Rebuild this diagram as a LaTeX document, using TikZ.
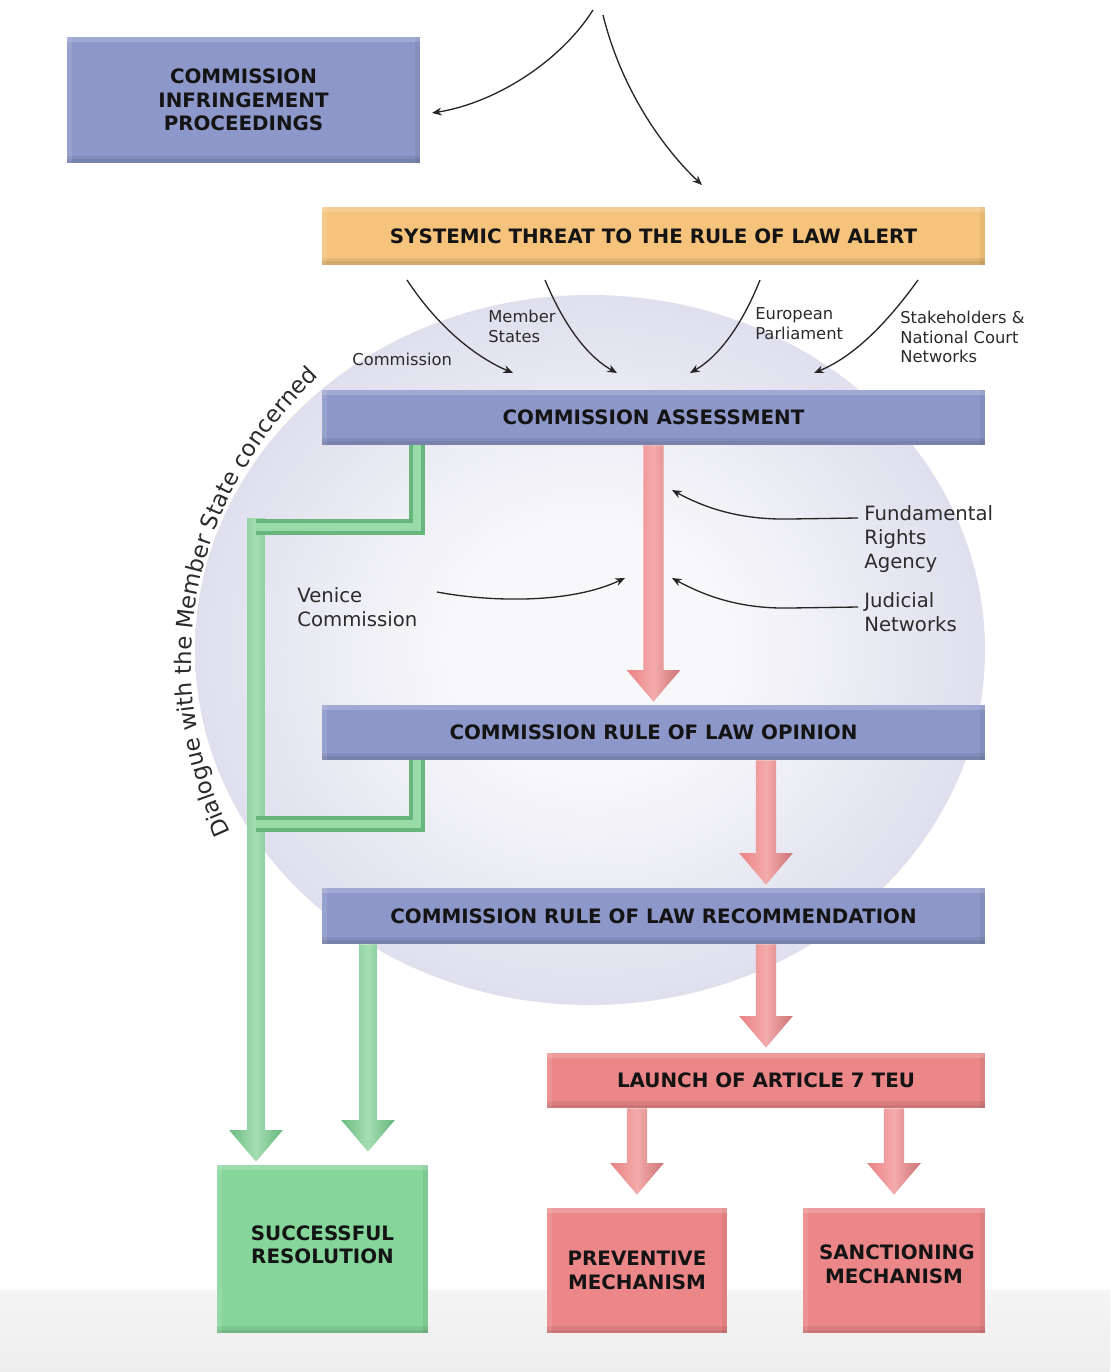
\documentclass[tikz,border=0pt]{standalone}
\usepackage{fontspec}
\setmainfont{DejaVu Sans}
\usetikzlibrary{arrows.meta,calc,decorations.text}
\definecolor{boxblue}{HTML}{8E97C9}
\definecolor{boxorange}{HTML}{F6C37C}
\definecolor{boxred}{HTML}{EC8789}
\definecolor{boxgreen}{HTML}{86D69C}
\definecolor{arrred}{HTML}{E98284}
\definecolor{arrredL}{HTML}{F4ABAB}
\definecolor{lgreen}{HTML}{86D399}
\definecolor{dgreen}{HTML}{5DAE72}
\definecolor{ellout}{HTML}{DFDFEE}
\definecolor{ellin}{HTML}{F8F8FA}
\definecolor{labelgray}{HTML}{2B2B2B}
\newcommand\boxfont{\bfseries\fontsize{11.3}{13.4}\selectfont}
\newcommand\smalllbl{\fontsize{9.3}{11.3}\selectfont}
\newcommand\medlbl{\fontsize{11.2}{13.9}\selectfont}
\newcommand\dialfont{\fontsize{13}{15}\selectfont}
\pgfdeclareradialshading{ellshade}{\pgfpoint{0bp}{0bp}}{color(0bp)=(ellin); color(9bp)=(ellin); color(25bp)=(ellout); color(50bp)=(ellout)}
\newcommand\blockarrow[4]{%
 \path[#1] let \p1=(#3), \p2=(#4) in
 (\x1-#2,\y1) -- (\x1+#2,\y1) -- (\x1+#2,\y2+18pt) -- (\x1+15.3pt,\y2+18pt) -- (\x1,\y2) -- (\x1-15.3pt,\y2+18pt) -- (\x1-#2,\y2+18pt) -- cycle;}
\tikzset{
 bevel/.style={path picture={
   \fill[black,opacity=0.07] (path picture bounding box.south west) rectangle ([yshift=4pt]path picture bounding box.south east);
   \fill[black,opacity=0.07] (path picture bounding box.south west) rectangle ([yshift=2pt]path picture bounding box.south east);
   \fill[black,opacity=0.06] ([xshift=-3pt]path picture bounding box.north east) rectangle (path picture bounding box.south east);
   \fill[white,opacity=0.18] (path picture bounding box.north west) rectangle ([yshift=-3pt]path picture bounding box.north east);
   \fill[white,opacity=0.10] (path picture bounding box.north west) rectangle ([xshift=3pt]path picture bounding box.south west);}},
 wh/.style 2 args={minimum width=#1*0.02cm, minimum height=#2*0.02cm},
 box/.style={rectangle, bevel, inner sep=2pt, align=center, font=\boxfont, text=black!92},
 bluebox/.style={box, fill=boxblue},
 orangebox/.style={box, fill=boxorange},
 redbox/.style={box, fill=boxred},
 greenbox/.style={box, fill=boxgreen},
 lbl/.style={anchor=west, align=left, inner sep=0pt, text=labelgray},
 conn/.style={draw=black!85, line width=0.75pt, -{Stealth[length=5.5pt,width=4.5pt]}},
 redarrow/.style={left color=arrred, right color=arrred!88!black, middle color=arrredL},
 greenarrow/.style={left color=dgreen!60!lgreen, right color=dgreen!80!lgreen, middle color=lgreen!75!white},
 greenline/.style={line width=9.6pt, draw=dgreen!75!lgreen, postaction={draw=lgreen!85!white, line width=5pt}},
}
\begin{document}
\begin{tikzpicture}[x=0.02cm,y=-0.02cm]
\fill[white] (0,0) rectangle (1110,1372);
\useasboundingbox (0,0) rectangle (1110,1372);
% bottom band
\shade[top color=white!96!black, bottom color=white!93!black] (0,1290) rectangle (1110,1372);
% big ellipse
\shade[shading=ellshade] (590,650) ellipse [x radius=395, y radius=355];
% curved text
\path[decorate, decoration={text along path, text align=center, text color=labelgray,
  text={|\dialfont|Dialogue with the Member State concerned}}]
  (240,852) .. controls (168,720) and (158,520) .. (334,362);

% boxes
\node[bluebox, wh={353}{126}] (infr) at (243.5,100) {COMMISSION\\INFRINGEMENT\\PROCEEDINGS};
\node[orangebox, wh={663}{58}] (alert) at (653.5,236) {SYSTEMIC THREAT TO THE RULE OF LAW ALERT};
\node[bluebox, wh={663}{55}] (assess) at (653.5,417.5) {COMMISSION ASSESSMENT};
\node[bluebox, wh={663}{55}] (opinion) at (653.5,732.5) {COMMISSION RULE OF LAW OPINION};
\node[bluebox, wh={663}{56}] (recom) at (653.5,916) {COMMISSION RULE OF LAW RECOMMENDATION};
\node[redbox, wh={438}{55}] (launch) at (766,1080.5) {LAUNCH OF ARTICLE 7 TEU};
\node[redbox, wh={180}{125}] (prev) at (637,1270.5) {PREVENTIVE\\MECHANISM};
\node[redbox, wh={182}{125}] (sanct) at (894,1270.5) {\raisebox{3.6pt}[\height][\depth]{\parbox{3cm}{\centering SANCTIONING\\MECHANISM}}};
\node[greenbox, wh={211}{168}] (succ) at (322.5,1249) {\raisebox{2.4pt}[\height][\depth]{\parbox{3cm}{\centering SUCCESSFUL\\RESOLUTION}}};

% green connectors
\coordinate (gx0) at (256,0);
\coordinate (gx1) at (417,0);
\coordinate (gx2) at (368,0);
\coordinate (c1) at (256,527);
\coordinate (c2) at (256,824);
\blockarrow{greenarrow}{5.1pt}{$(c1)+(0,-9)$}{$(gx0 |- succ.north)+(0,-3)$}
\draw[greenline] (gx1 |- assess.south) |- (c1);
\draw[greenline] (gx1 |- opinion.south) |- (c2);
\blockarrow{greenarrow}{5.1pt}{gx2 |- recom.south}{$(gx2 |- succ.north)+(0,-13)$}

% red arrows
\blockarrow{redarrow}{5.7pt}{assess.south}{$(opinion.north)+(0,-3)$}
\blockarrow{redarrow}{5.7pt}{launch.north |- opinion.south}{$(launch.north |- recom.north)+(0,-3)$}
\blockarrow{redarrow}{5.7pt}{launch.north |- recom.south}{$(launch.north)+(0,-5)$}
\blockarrow{redarrow}{5.7pt}{prev.north |- launch.south}{$(prev.north)+(0,-13)$}
\blockarrow{redarrow}{5.7pt}{sanct.north |- launch.south}{$(sanct.north)+(0,-13)$}

% top connectors
\coordinate (t1) at (593,10);
\coordinate (t1e) at (432,113);
\coordinate (t2) at (603,15);
\coordinate (t2e) at (702,185);
\draw[conn] (t1) .. controls (560,62) and (495,103) .. (t1e);
\draw[conn] (t2) .. controls (622,92) and (665,150) .. (t2e);

% labels above assessment
\node[lbl, font=\smalllbl] (lcomm) at (352,359) {Commission};
\node[lbl, font=\smalllbl] (lms) at (488,326) {Member\\States};
\node[lbl, font=\smalllbl] (lep) at (755,324) {European\\Parliament};
\node[lbl, font=\smalllbl] (lsh) at (900,337) {Stakeholders \&\\National Court\\Networks};

\coordinate (a1) at (407,280); \coordinate (a1e) at (513,373);
\coordinate (a2) at (545,280); \coordinate (a2e) at (617,373);
\coordinate (a3) at (760,280); \coordinate (a3e) at (690,373);
\coordinate (a4) at (918,280); \coordinate (a4e) at (814,373);
\draw[conn] (a1) .. controls (440,330) and (478,358) .. (a1e);
\draw[conn] (a2) .. controls (566,330) and (590,358) .. (a2e);
\draw[conn] (a3) .. controls (740,330) and (716,358) .. (a3e);
\draw[conn] (a4) .. controls (882,330) and (850,358) .. (a4e);

% side labels
\node[lbl, font=\medlbl] (lfra) at (864,539) {Fundamental\\Rights\\Agency};
\node[lbl, font=\medlbl] (ljud) at (864,612) {Judicial\\Networks};
\node[lbl, font=\medlbl] (lven) at (297,607) {Venice\\Commission};
\coordinate (f1) at (858,518); \coordinate (f1e) at (672,490);
\coordinate (j1) at (858,607); \coordinate (j1e) at (672,578);
\coordinate (v1) at (437,592); \coordinate (v1e) at (625,578);
\draw[conn] (f1) -- (790,519) .. controls (740,520) and (705,508) .. (f1e);
\draw[conn] (j1) -- (790,608) .. controls (740,609) and (705,596) .. (j1e);
\draw[conn] (v1) .. controls (490,602) and (570,604) .. (v1e);
\end{tikzpicture}
\end{document}
